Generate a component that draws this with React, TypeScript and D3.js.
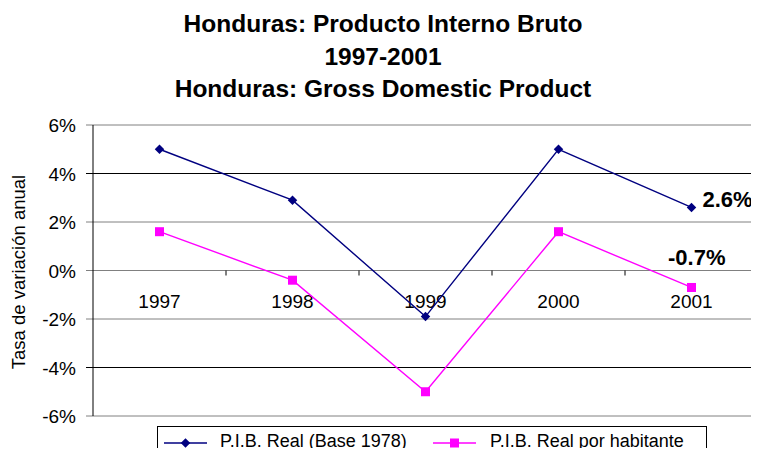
import React, { useEffect, useRef } from 'react';
import * as d3 from 'd3';

const years = ['1997', '1998', '1999', '2000', '2001'];
const pibReal = [5.0, 2.9, -1.9, 5.0, 2.6];
const pibHabitante = [1.6, -0.4, -5.0, 1.6, -0.7];
const yTicks = [-6, -4, -2, 0, 2, 4, 6];
const titleLines = ['Honduras: Producto Interno Bruto', '1997-2001', 'Honduras: Gross Domestic Product'];
const seriesNames = ['P.I.B. Real (Base 1978)', 'P.I.B. Real por habitante'];

const W = 759;
const H = 456;
const FONT = 'Arial, "Liberation Sans", sans-serif';

const App: React.FC = () => {
    const ref = useRef<SVGSVGElement | null>(null);

    useEffect(() => {
        const svg = d3.select(ref.current);
        svg.selectAll('*').remove();

        const left = 93, right = 758, top = 125, bottom = 416;

        const x = d3.scaleBand<string>().domain(years).range([left, right]);
        const y = d3.scaleLinear().domain([-6, 6]).range([bottom, top]);

        // title
        svg.append('g').selectAll('text')
            .data(titleLines)
            .enter().append('text')
            .attr('x', 383)
            .attr('y', (_d, i) => 32 + i * 32.5)
            .attr('text-anchor', 'middle')
            .style('font-family', FONT)
            .style('font-weight', 'bold')
            .style('font-size', '24.5px')
            .text(d => d);

        // gridlines + y ticks
        const grid = svg.append('g');
        grid.selectAll('line')
            .data(yTicks)
            .enter().append('line')
            .attr('x1', left - 7)
            .attr('x2', right)
            .attr('y1', d => y(d))
            .attr('y2', d => y(d))
            .attr('stroke', d => (Math.abs(d) === 4 ? '#000' : '#808080'))
            .attr('stroke-width', 1);

        grid.selectAll('text')
            .data(yTicks)
            .enter().append('text')
            .attr('x', 76)
            .attr('y', d => y(d) + 7)
            .attr('text-anchor', 'end')
            .style('font-family', FONT)
            .style('font-size', '19px')
            .text(d => `${d}%`);

        // plot border right
        svg.append('line')
            .attr('x1', right).attr('x2', right)
            .attr('y1', top).attr('y2', bottom)
            .attr('stroke', '#808080');

        // y axis line
        svg.append('line')
            .attr('x1', left).attr('x2', left)
            .attr('y1', top).attr('y2', bottom)
            .attr('stroke', '#000');

        // category ticks on the zero line
        const bounds = years.slice(1).map(d => x(d) as number);
        svg.append('g').selectAll('line')
            .data(bounds)
            .enter().append('line')
            .attr('x1', d => d).attr('x2', d => d)
            .attr('y1', y(0)).attr('y2', y(0) + 5)
            .attr('stroke', '#000');

        svg.append('g').selectAll('text')
            .data(years)
            .enter().append('text')
            .attr('x', d => (x(d) as number) + x.bandwidth() / 2)
            .attr('y', y(0) + 37)
            .attr('text-anchor', 'middle')
            .style('font-family', FONT)
            .style('font-size', '19px')
            .text(d => d);

        // y axis title
        svg.append('text')
            .attr('transform', `translate(25,${272}) rotate(-90)`)
            .attr('text-anchor', 'middle')
            .style('font-family', FONT)
            .style('font-size', '18.5px')
            .text('Tasa de variación anual');

        const cx = (d: string) => (x(d) as number) + x.bandwidth() / 2;
        const line = d3.line<number>()
            .x((_d, i) => cx(years[i]))
            .y(d => y(d));

        // series 1: navy diamonds
        svg.append('path')
            .attr('d', line(pibReal))
            .attr('fill', 'none')
            .attr('stroke', '#000080')
            .attr('stroke-width', 1.4);
        svg.append('g').selectAll('path')
            .data(pibReal)
            .enter().append('path')
            .attr('d', d3.symbol().type(d3.symbolDiamond2).size(58) as any)
            .attr('transform', (d, i) => `translate(${cx(years[i])},${y(d)})`)
            .attr('fill', '#000080');

        // series 2: magenta squares
        svg.append('path')
            .attr('d', line(pibHabitante))
            .attr('fill', 'none')
            .attr('stroke', '#FF00FF')
            .attr('stroke-width', 1.4);
        svg.append('g').selectAll('rect')
            .data(pibHabitante)
            .enter().append('rect')
            .attr('x', (_d, i) => cx(years[i]) - 4.5)
            .attr('y', d => y(d) - 4.5)
            .attr('width', 9)
            .attr('height', 9)
            .attr('fill', '#FF00FF');

        // annotations for last values
        const last = years.length - 1;
        svg.append('text')
            .attr('x', cx(years[last]) + 11)
            .attr('y', y(pibReal[last]))
            .style('font-family', FONT)
            .style('font-weight', 'bold')
            .style('font-size', '22px')
            .text(`${pibReal[last]}%`);
        svg.append('text')
            .attr('x', cx(years[last]) + 34)
            .attr('y', y(pibHabitante[last]) - 22.5)
            .attr('text-anchor', 'end')
            .style('font-family', FONT)
            .style('font-weight', 'bold')
            .style('font-size', '22px')
            .text(`${pibHabitante[last]}%`);

        // legend
        const lg = svg.append('g');
        lg.append('rect')
            .attr('x', 157.5).attr('y', 426.5)
            .attr('width', 549).attr('height', 40)
            .attr('fill', '#fff')
            .attr('stroke', '#000');
        const ly = 443;
        const items = [
            { x0: 164, tx: 220, color: '#000080', kind: 'diamond' },
            { x0: 433, tx: 490, color: '#FF00FF', kind: 'square' },
        ];
        items.forEach((it, i) => {
            lg.append('line')
                .attr('x1', it.x0).attr('x2', it.x0 + 43)
                .attr('y1', ly).attr('y2', ly)
                .attr('stroke', it.color)
                .attr('stroke-width', 1.4);
            if (it.kind === 'diamond') {
                lg.append('path')
                    .attr('d', d3.symbol().type(d3.symbolDiamond2).size(58)() as string)
                    .attr('transform', `translate(${it.x0 + 21.5},${ly})`)
                    .attr('fill', it.color);
            } else {
                lg.append('rect')
                    .attr('x', it.x0 + 17).attr('y', ly - 4.5)
                    .attr('width', 9).attr('height', 9)
                    .attr('fill', it.color);
            }
            lg.append('text')
                .attr('x', it.tx)
                .attr('y', 447)
                .style('font-family', FONT)
                .style('font-size', '18px')
                .text(seriesNames[i]);
        });
    }, []);

    return (
        <svg ref={ref} width={W} height={H} style={{ display: 'block', margin: -8, background: '#fff' }} />
    );
};

export default App;
